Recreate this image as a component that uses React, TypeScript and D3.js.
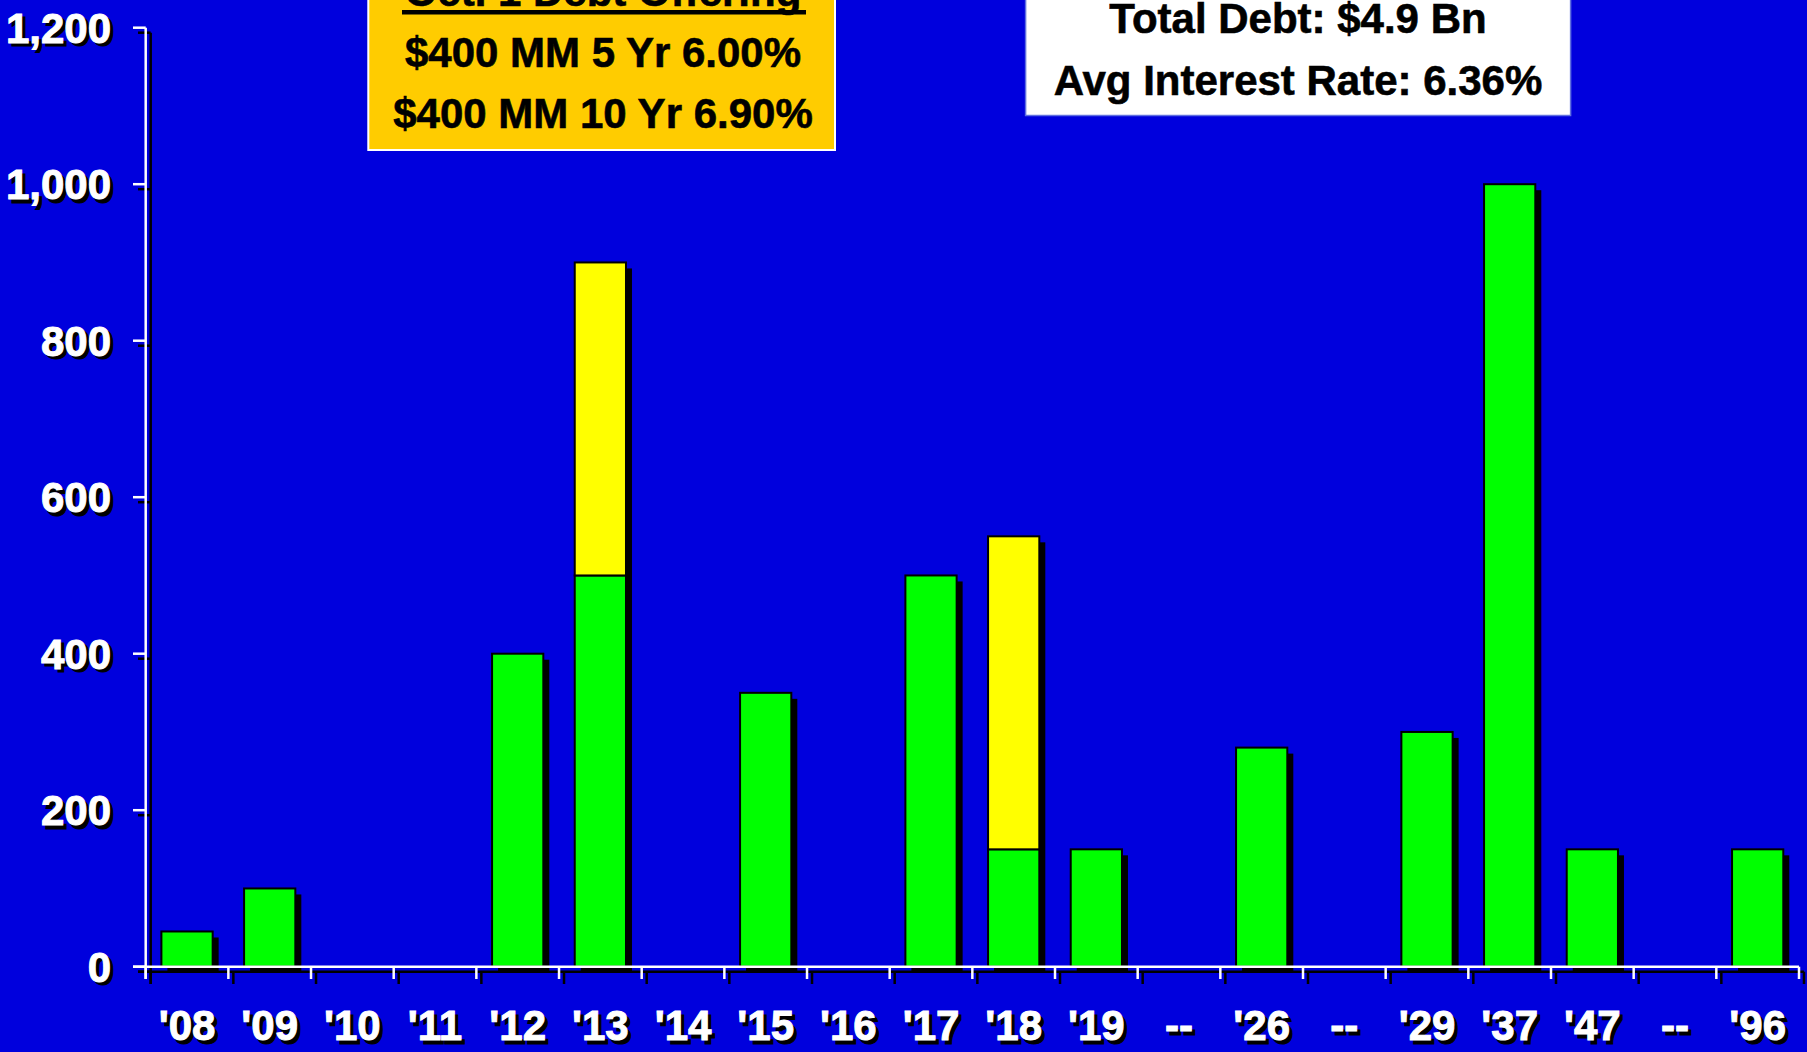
import React from "react";
import * as d3 from "d3";

const categories = ["'08", "'09", "'10", "'11", "'12", "'13", "'14", "'15", "'16", "'17", "'18", "'19", "--", "'26", "--", "'29", "'37", "'47", "--", "'96"];
const existingDebt = [45, 100, 0, 0, 400, 500, 0, 350, 0, 500, 150, 150, 0, 280, 0, 300, 1000, 150, 0, 150];
const newOffering = [0, 0, 0, 0, 0, 400, 0, 0, 0, 0, 400, 0, 0, 0, 0, 0, 0, 0, 0, 0];
const yTicks = [0, 200, 400, 600, 800, 1000, 1200];
const offeringLines = ["Oct. 1 Debt Offering", "$400 MM 5 Yr 6.00%", "$400 MM 10 Yr 6.90%"];
const summaryLines = ["Total Debt: $4.9 Bn", "Avg Interest Rate: 6.36%"];

const W = 1807;
const H = 1052;
const BG = "#0000DD";
const FONT = "'Liberation Sans', Arial, Helvetica, sans-serif";

export default function App() {
  const x0 = 145.7;
  const x1 = 1799;
  const yBase = 966.7;
  const yTop = 27.7;
  const idx = categories.map((_, i) => i);
  const x = d3.scaleBand<number>().domain(idx).range([x0, x1]).paddingInner(0.38).paddingOuter(0.19);
  const y = d3.scaleLinear().domain([0, 1200]).range([yBase, yTop]);
  const step = x.step();
  const bw = x.bandwidth();
  const boundaries = d3.range(categories.length + 1).map((i) => x0 + i * step);
  const sh = 5;
  const bsh = 6;

  const shadowText = (key: string, tx: number, ty: number, text: string, anchor: string, size: number) => (
    <g key={key}>
      <text x={tx + 3.5} y={ty + 3.5} fill="#000" stroke="#000" strokeWidth={1} fontSize={size} fontWeight="bold" fontFamily={FONT} textAnchor={anchor}>{text}</text>
      <text x={tx} y={ty} fill="#fff" stroke="#fff" strokeWidth={1} fontSize={size} fontWeight="bold" fontFamily={FONT} textAnchor={anchor}>{text}</text>
    </g>
  );

  const boxText = (key: string, tx: number, ty: number, text: string) => (
    <text key={key} x={tx} y={ty} fontSize={42} fontWeight="bold" fontFamily={FONT} textAnchor="middle" fill="#000" stroke="#000" strokeWidth={0.6}>{text}</text>
  );

  return (
    <div style={{ position: "absolute", left: 0, top: 0, width: W, height: H, overflow: "hidden" }}>
      <svg width={W} height={H} style={{ display: "block" }}>
        <rect x={0} y={0} width={W} height={H} fill={BG} />

        {/* Axis shadows */}
        <g stroke="#000" strokeWidth={2.5}>
          <line x1={x0 + sh} y1={yTop + sh} x2={x0 + sh} y2={979 + sh} />
          <line x1={133 + sh} y1={yBase + sh} x2={x1 + sh} y2={yBase + sh} />
          {yTicks.map((t) => (
            <line key={"ys" + t} x1={133 + sh} y1={y(t) + sh} x2={x0 + sh} y2={y(t) + sh} />
          ))}
          {boundaries.map((b, i) => (
            <line key={"xs" + i} x1={b + sh} y1={yBase + sh} x2={b + sh} y2={979 + sh} />
          ))}
        </g>

        {/* Bar shadows */}
        {idx.map((i) => {
          const total = existingDebt[i] + newOffering[i];
          if (total <= 0) return null;
          return (
            <rect key={"bs" + i} x={(x(i) as number) + bsh} y={y(total) + bsh} width={bw} height={yBase - y(total)} fill="#000" />
          );
        })}

        {/* Bars */}
        {idx.map((i) => {
          const g = existingDebt[i];
          const n = newOffering[i];
          const bx = x(i) as number;
          return (
            <g key={"b" + i} stroke="#000" strokeWidth={2}>
              {g > 0 && <rect x={bx} y={y(g)} width={bw} height={yBase - y(g)} fill="#00FF00" />}
              {n > 0 && <rect x={bx} y={y(g + n)} width={bw} height={y(g) - y(g + n)} fill="#FFFF00" />}
            </g>
          );
        })}

        {/* Axes */}
        <g stroke="#fff" strokeWidth={2.5}>
          <line x1={x0} y1={yTop} x2={x0} y2={979} />
          <line x1={133} y1={yBase} x2={x1} y2={yBase} />
          {yTicks.map((t) => (
            <line key={"yt" + t} x1={133} y1={y(t)} x2={x0} y2={y(t)} />
          ))}
          {boundaries.map((b, i) => (
            <line key={"xt" + i} x1={b} y1={yBase} x2={b} y2={979} />
          ))}
        </g>

        {/* Y tick labels */}
        {yTicks.map((t) => shadowText("yl" + t, 111, y(t) + 15, d3.format(",")(t), "end", 42))}

        {/* X labels */}
        {idx.map((i) => shadowText("xl" + i, (x(i) as number) + bw / 2, 1040, categories[i], "middle", 42))}

        {/* Offering box */}
        <rect x={368.3} y={-20} width={466.7} height={170} fill="#FFCC00" stroke="#fff" strokeWidth={2} />
        {boxText("o0", 603, 6, offeringLines[0])}
        <rect x={402} y={10} width={404} height={4.5} fill="#000" />
        {boxText("o1", 603, 67, offeringLines[1])}
        {boxText("o2", 603, 128, offeringLines[2])}

        {/* Summary box */}
        <rect x={1025.6} y={-20} width={545} height={135.5} fill="#fff" stroke="#6070E0" strokeWidth={1.5} />
        {boxText("s0", 1298, 33, summaryLines[0])}
        {boxText("s1", 1298, 94.5, summaryLines[1])}
      </svg>
    </div>
  );
}
